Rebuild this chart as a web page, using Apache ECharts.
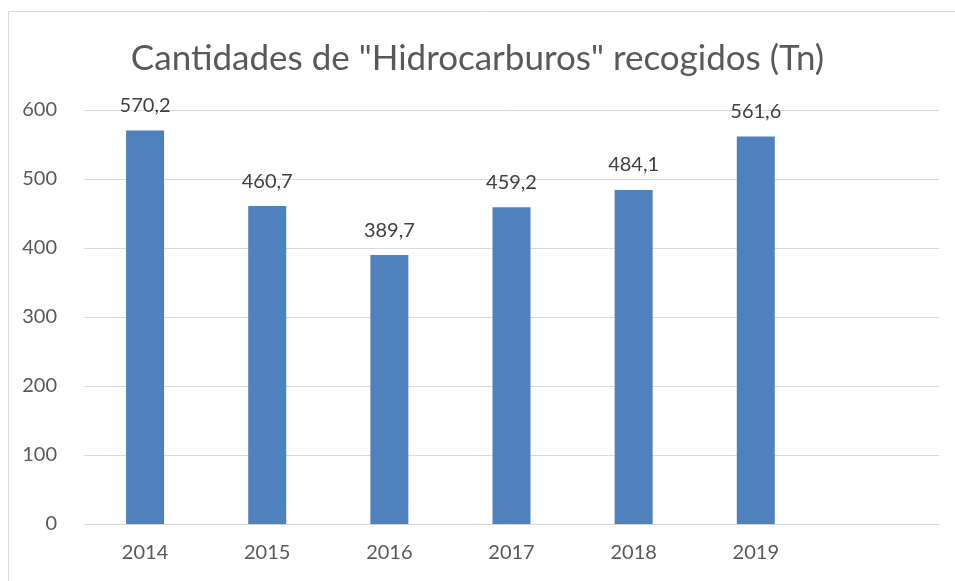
<!DOCTYPE html>
<html>
<head>
<meta charset="utf-8">
<script src="https://cdn.jsdelivr.net/npm/echarts@6/dist/echarts.min.js"></script>
<style>
  html, body { margin: 0; padding: 0; background: #fff; }
  #chart { width: 955px; height: 581px; }
</style>
</head>
<body>
<div id="chart"></div>
<script>
window.addEventListener("load", () => {
    // datos
    const years = ["2014", "2015", "2016", "2017", "2018", "2019", ""];
    const toneladas = [570.2, 460.7, 389.7, 459.2, 484.1, 561.6, null];
    const yTicks = { min: 0, max: 600, interval: 100 };

    const FONT = "Lato";
    const GRAY = "#595959";

    let option = {
        backgroundColor: "#fff",
        animation: false,
        title: {
            text: 'Cantidades de "Hidrocarburos" recogidos (Tn)',
            left: "center",
            top: 36,
            textStyle: { fontFamily: FONT, fontSize: 35, fontWeight: "normal", color: GRAY }
        },
        graphic: [{
            type: "rect",
            shape: { x: 8.5, y: 11.5, width: 960, height: 600 },
            style: { fill: "none", stroke: "#D9D9D9", lineWidth: 1 },
            silent: true
        }],
        grid: { left: 84, right: 16, top: 110, bottom: 57 },
        xAxis: {
            type: "category",
            data: years,
            axisLine: { lineStyle: { color: "#D9D9D9", width: 1 } },
            axisTick: { show: false },
            axisLabel: { color: GRAY, fontFamily: FONT, fontSize: 20, margin: 19 }
        },
        yAxis: {
            type: "value",
            min: yTicks.min,
            max: yTicks.max,
            interval: yTicks.interval,
            axisLine: { show: false },
            axisTick: { show: false },
            splitLine: { lineStyle: { color: "#D9D9D9", width: 1 } },
            axisLabel: { color: GRAY, fontFamily: FONT, fontSize: 20, margin: 27 }
        },
        series: [{
            type: "bar",
            data: toneladas,
            barWidth: 38,
            itemStyle: { color: "#4F81BD" },
            label: {
                show: true,
                position: "top",
                distance: 15,
                color: "#404040",
                fontFamily: FONT,
                fontSize: 20,
                formatter: p => p.value == null ? "" : String(p.value).replace(".", ",")
            }
        }]
    };

    echarts.init(document.getElementById("chart")).setOption(option);
});
</script>
</body>
</html>
